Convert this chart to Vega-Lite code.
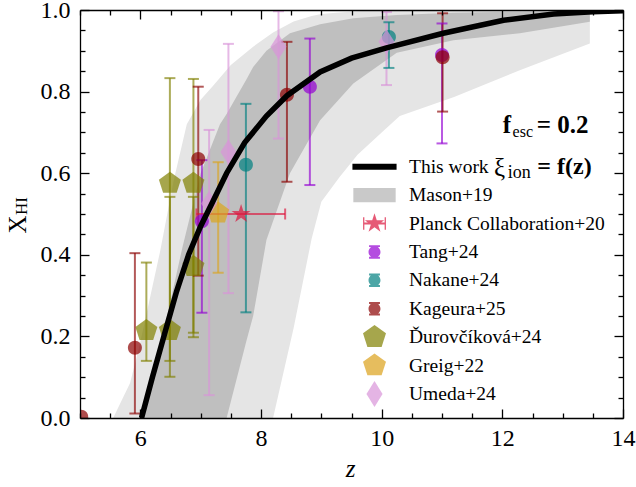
{
  "$schema": "https://vega.github.io/schema/vega-lite/v6.json",
  "width": 543,
  "height": 408,
  "autosize": {"type": "none"},
  "padding": {"left": 80, "top": 10, "right": 13, "bottom": 69},
  "config": {
    "view": {"stroke": null},
    "font": "Liberation Serif"
  },
  "datasets": {
    "curve": [
      {"z": 6.02, "xhi": 0}, {"z": 6.2, "xhi": 0.1}, {"z": 6.4, "xhi": 0.205}, {"z": 6.6, "xhi": 0.31},
      {"z": 6.8, "xhi": 0.4}, {"z": 7.0, "xhi": 0.47}, {"z": 7.2, "xhi": 0.53}, {"z": 7.43, "xhi": 0.6},
      {"z": 7.73, "xhi": 0.675}, {"z": 8.09, "xhi": 0.74}, {"z": 8.43, "xhi": 0.79}, {"z": 8.98, "xhi": 0.848},
      {"z": 9.5, "xhi": 0.882}, {"z": 10.08, "xhi": 0.907}, {"z": 11.02, "xhi": 0.943}, {"z": 12.02, "xhi": 0.975},
      {"z": 12.85, "xhi": 0.99}, {"z": 13.5, "xhi": 0.996}, {"z": 14, "xhi": 0.998}
    ],
    "outer": [
      {"z": 5.55, "lo": 0, "hi": 0}, {"z": 5.83, "lo": 0, "hi": 0.086}, {"z": 5.97, "lo": 0, "hi": 0.167},
      {"z": 6.08, "lo": 0, "hi": 0.24}, {"z": 6.33, "lo": 0, "hi": 0.41}, {"z": 6.55, "lo": 0, "hi": 0.58},
      {"z": 6.77, "lo": 0, "hi": 0.72}, {"z": 7.0, "lo": 0, "hi": 0.78}, {"z": 7.21, "lo": 0, "hi": 0.815},
      {"z": 7.5, "lo": 0, "hi": 0.865}, {"z": 7.87, "lo": 0, "hi": 0.91}, {"z": 8.2, "lo": 0, "hi": 0.945},
      {"z": 8.54, "lo": 0.22, "hi": 0.972}, {"z": 8.84, "lo": 0.44, "hi": 0.985}, {"z": 9.0, "lo": 0.53, "hi": 0.99},
      {"z": 9.3, "lo": 0.59, "hi": 0.994}, {"z": 9.6, "lo": 0.645, "hi": 0.997}, {"z": 10.0, "lo": 0.7, "hi": 1.0},
      {"z": 10.3, "lo": 0.74, "hi": 1.0}, {"z": 11.2, "lo": 0.787, "hi": 1.0}, {"z": 12.3, "lo": 0.853, "hi": 1.0},
      {"z": 13.45, "lo": 0.918, "hi": 1.0}
    ],
    "inner": [
      {"z": 6.0, "lo": 0, "hi": 0}, {"z": 6.4, "lo": 0, "hi": 0.22}, {"z": 6.7, "lo": 0, "hi": 0.42},
      {"z": 7.0, "lo": 0, "hi": 0.6}, {"z": 7.32, "lo": 0, "hi": 0.72}, {"z": 7.43, "lo": 0, "hi": 0.745},
      {"z": 7.76, "lo": 0.19, "hi": 0.83}, {"z": 7.87, "lo": 0.25, "hi": 0.86}, {"z": 8.09, "lo": 0.436, "hi": 0.9},
      {"z": 8.48, "lo": 0.6, "hi": 0.943}, {"z": 8.98, "lo": 0.73, "hi": 0.965}, {"z": 9.53, "lo": 0.82, "hi": 0.98},
      {"z": 10.25, "lo": 0.895, "hi": 0.988}, {"z": 11.19, "lo": 0.926, "hi": 0.993}, {"z": 12.29, "lo": 0.943, "hi": 0.996},
      {"z": 13.45, "lo": 0.971, "hi": 0.997}
    ],
    "obs": [
      {"s": "Planck Collaboration+20", "z": 7.67, "xhi": 0.5, "zlo": 6.93, "zhi": 8.4},
      {"s": "Tang+24", "z": 7.02, "xhi": 0.482, "lo": 0.258, "hi": 0.632},
      {"s": "Tang+24", "z": 8.81, "xhi": 0.812, "lo": 0.571, "hi": 0.93},
      {"s": "Tang+24", "z": 11.0, "xhi": 0.89, "lo": 0.673, "hi": 0.967},
      {"s": "Nakane+24", "z": 7.75, "xhi": 0.621, "lo": 0.259, "hi": 0.77},
      {"s": "Nakane+24", "z": 10.12, "xhi": 0.934, "lo": 0.858, "hi": 0.97},
      {"s": "Kageura+25", "z": 5.02, "xhi": 0.003},
      {"s": "Kageura+25", "z": 5.91, "xhi": 0.172, "lo": 0.011, "hi": 0.404},
      {"s": "Kageura+25", "z": 6.96, "xhi": 0.635, "lo": 0.349, "hi": 0.812},
      {"s": "Kageura+25", "z": 8.43, "xhi": 0.792, "lo": 0.579, "hi": 0.922},
      {"s": "Kageura+25", "z": 11.01, "xhi": 0.884, "lo": 0.751, "hi": 0.992},
      {"s": "Ďurovčíková+24", "z": 6.1, "xhi": 0.214, "lo": 0.14, "hi": 0.381},
      {"s": "Ďurovčíková+24", "z": 6.49, "xhi": 0.214, "lo": 0.14, "hi": 0.542},
      {"s": "Ďurovčíková+24", "z": 6.49, "xhi": 0.575, "lo": 0.101, "hi": 0.833},
      {"s": "Ďurovčíková+24", "z": 6.88, "xhi": 0.371, "lo": 0.209, "hi": 0.542},
      {"s": "Ďurovčíková+24", "z": 6.88, "xhi": 0.575, "lo": 0.198, "hi": 0.831},
      {"s": "Greig+22", "z": 7.29, "xhi": 0.502, "lo": 0.356, "hi": 0.627},
      {"s": "Umeda+24", "z": 7.14, "xhi": 0.526, "lo": 0.056, "hi": 0.706},
      {"s": "Umeda+24", "z": 7.46, "xhi": 0.652, "lo": 0.306, "hi": 0.917},
      {"s": "Umeda+24", "z": 8.29, "xhi": 0.91, "lo": 0.685, "hi": 0.997},
      {"s": "Umeda+24", "z": 10.08, "xhi": 0.922, "lo": 0.816, "hi": 0.995}
    ]
  },
  "resolve": {"axis": {"x": "independent", "y": "independent"}},
  "layer": [
    {
      "data": {"name": "outer"},
      "mark": {"type": "area", "color": "#e5e5e5", "clip": true},
      "encoding": {
        "x": {"field": "z", "type": "quantitative", "scale": {"domain": [5, 14], "nice": false, "zero": false},
          "axis": {"orient": "bottom", "zindex": 2, "grid": false, "domain": true, "domainColor": "black", "domainWidth": 1.3,
            "ticks": true, "tickColor": "black", "tickWidth": 1.3,
            "values": [5,5.5,6,6.5,7,7.5,8,8.5,9,9.5,10,10.5,11,11.5,12,12.5,13,13.5,14],
            "format": ".0f",
            "tickSize": {"condition": {"test": "datum.value % 2 == 0", "value": -9}, "value": -5},
            "labelExpr": "datum.value % 2 == 0 ? datum.label : ''",
            "labelFont": "Liberation Serif", "labelFontSize": 24, "labelColor": "black", "labelFlush": false, "labelOverlap": false,
            "labelPadding": 36, "labelBaseline": "alphabetic",
            "title": "z", "titleFont": "Liberation Serif", "titleColor": "black", "titleFontStyle": "italic", "titleFontSize": 25, "titleFontWeight": "normal",
            "titleX": 270, "titleY": 58, "titleBaseline": "alphabetic", "titleAlign": "center"}},
        "y": {"field": "lo", "type": "quantitative", "scale": {"domain": [0, 1], "nice": false, "zero": false},
          "axis": {"orient": "left", "zindex": 2, "grid": false, "domain": true, "domainColor": "black", "domainWidth": 1.3,
            "ticks": true, "tickColor": "black", "tickWidth": 1.3,
            "values": [0,0.05,0.1,0.15,0.2,0.25,0.3,0.35,0.4,0.45,0.5,0.55,0.6,0.65,0.7,0.75,0.8,0.85,0.9,0.95,1],
            "format": ".1f",
            "tickSize": {"condition": {"test": "abs(datum.value*5 - round(datum.value*5)) < 0.001", "value": -9}, "value": -5},
            "labelExpr": "abs(datum.value*5 - round(datum.value*5)) < 0.001 ? datum.label : ''",
            "labelFont": "Liberation Serif", "labelFontSize": 24, "labelColor": "black", "labelFlush": false, "labelOverlap": false,
            "labelPadding": 19,
            "title": "X", "titleFont": "Liberation Serif", "titleColor": "black", "titleFontSize": 25, "titleFontWeight": "normal", "titleAngle": 270,
            "titleX": -55, "titleY": 214, "titleAlign": "center", "titleBaseline": "alphabetic"}},
        "y2": {"field": "hi"}
      }
    },
    {
      "data": {"name": "inner"},
      "mark": {"type": "area", "color": "#bfbfbf", "clip": true},
      "encoding": {
        "x": {"field": "z", "type": "quantitative", "scale": {"domain": [5, 14], "nice": false, "zero": false},
          "axis": {"orient": "top", "zindex": 2, "grid": false, "domain": true, "domainColor": "black", "domainWidth": 1.3,
            "ticks": true, "tickColor": "black", "tickWidth": 1.3,
            "values": [5,5.5,6,6.5,7,7.5,8,8.5,9,9.5,10,10.5,11,11.5,12,12.5,13,13.5,14],
            "tickSize": {"condition": {"test": "datum.value % 2 == 0", "value": -9}, "value": -5},
            "labels": false, "title": null}},
        "y": {"field": "lo", "type": "quantitative", "scale": {"domain": [0, 1], "nice": false, "zero": false},
          "axis": {"orient": "right", "zindex": 2, "grid": false, "domain": true, "domainColor": "black", "domainWidth": 1.3,
            "ticks": true, "tickColor": "black", "tickWidth": 1.3,
            "values": [0,0.05,0.1,0.15,0.2,0.25,0.3,0.35,0.4,0.45,0.5,0.55,0.6,0.65,0.7,0.75,0.8,0.85,0.9,0.95,1],
            "tickSize": {"condition": {"test": "abs(datum.value*5 - round(datum.value*5)) < 0.001", "value": -9}, "value": -5},
            "labels": false,
            "title": "HI", "titleFont": "Liberation Serif", "titleColor": "black", "titleFontSize": 17, "titleFontWeight": "normal", "titleAngle": 270,
            "titleX": -597, "titleY": 195.5, "titleAlign": "center", "titleBaseline": "alphabetic"}},
        "y2": {"field": "hi"}
      }
    },
    {
      "data": {"name": "obs"},
      "transform": [{"filter": "isValid(datum.lo)"}],
      "mark": {"type": "rule", "strokeWidth": 2, "opacity": 0.65, "clip": true},
      "encoding": {
        "x": {"field": "z", "type": "quantitative", "axis": null},
        "y": {"field": "lo", "type": "quantitative", "axis": null},
        "y2": {"field": "hi"},
        "color": {"field": "s", "type": "nominal", "legend": null,
          "scale": {"domain": ["Planck Collaboration+20","Tang+24","Nakane+24","Kageura+25","Ďurovčíková+24","Greig+22","Umeda+24"],
            "range": ["#dc143c","#9400d3","#008080","#8b0000","#808000","#daa520","#d894d8"]}}
      }
    },
    {
      "data": {"name": "obs"},
      "transform": [{"filter": "isValid(datum.lo)"}, {"fold": ["lo", "hi"], "as": ["cap", "capv"]}],
      "mark": {"type": "tick", "orient": "horizontal", "size": 11, "thickness": 2, "opacity": 0.65, "clip": true},
      "encoding": {
        "x": {"field": "z", "type": "quantitative", "axis": null},
        "y": {"field": "capv", "type": "quantitative", "axis": null},
        "color": {"field": "s", "type": "nominal", "legend": null}
      }
    },
    {
      "data": {"name": "obs"},
      "transform": [{"filter": "isValid(datum.zlo)"}],
      "mark": {"type": "rule", "strokeWidth": 2, "opacity": 0.65, "clip": true},
      "encoding": {
        "x": {"field": "zlo", "type": "quantitative", "axis": null},
        "x2": {"field": "zhi"},
        "y": {"field": "xhi", "type": "quantitative", "axis": null},
        "color": {"field": "s", "type": "nominal", "legend": null}
      }
    },
    {
      "data": {"name": "obs"},
      "transform": [{"filter": "isValid(datum.zlo)"}, {"fold": ["zlo", "zhi"], "as": ["cap", "capz"]}],
      "mark": {"type": "tick", "orient": "vertical", "size": 11, "thickness": 2, "opacity": 0.65, "clip": true},
      "encoding": {
        "x": {"field": "capz", "type": "quantitative", "axis": null},
        "y": {"field": "xhi", "type": "quantitative", "axis": null},
        "color": {"field": "s", "type": "nominal", "legend": null}
      }
    },
    {
      "data": {"name": "obs"},
      "transform": [{"filter": "datum.s == 'Planck Collaboration+20'"}],
      "mark": {"type": "point", "filled": true, "opacity": 0.7, "size": 400, "strokeWidth": 0, "clip": true,
        "shape": "M0,-1L0.2245,-0.309L0.951,-0.309L0.3633,0.118L0.588,0.809L0,0.382L-0.588,0.809L-0.3633,0.118L-0.951,-0.309L-0.2245,-0.309Z"},
      "encoding": {
        "x": {"field": "z", "type": "quantitative", "axis": null},
        "y": {"field": "xhi", "type": "quantitative", "axis": null},
        "color": {"field": "s", "type": "nominal", "legend": null}
      }
    },
    {
      "data": {"name": "obs"},
      "transform": [{"filter": "indexof(['Tang+24','Nakane+24','Kageura+25'], datum.s) >= 0"}],
      "mark": {"type": "point", "filled": true, "opacity": 0.7, "size": 400, "strokeWidth": 0, "clip": true,
        "shape": "M-0.7,0A0.7,0.7 0 1,1 0.7,0A0.7,0.7 0 1,1 -0.7,0Z"},
      "encoding": {
        "x": {"field": "z", "type": "quantitative", "axis": null},
        "y": {"field": "xhi", "type": "quantitative", "axis": null},
        "color": {"field": "s", "type": "nominal", "legend": null}
      }
    },
    {
      "data": {"name": "obs"},
      "transform": [{"filter": "indexof(['Ďurovčíková+24','Greig+22'], datum.s) >= 0"}],
      "mark": {"type": "point", "filled": true, "opacity": 0.7, "size": 400, "strokeWidth": 0, "clip": true,
        "shape": "M0,-1.157L1.1004,-0.3575L0.6801,0.936L-0.6801,0.936L-1.1004,-0.3575Z"},
      "encoding": {
        "x": {"field": "z", "type": "quantitative", "axis": null},
        "y": {"field": "xhi", "type": "quantitative", "axis": null},
        "color": {"field": "s", "type": "nominal", "legend": null}
      }
    },
    {
      "data": {"name": "obs"},
      "transform": [{"filter": "datum.s == 'Umeda+24'"}],
      "mark": {"type": "point", "filled": true, "opacity": 0.7, "size": 400, "strokeWidth": 0, "clip": true,
        "shape": "M0,-1.25L0.8,0L0,1.25L-0.8,0Z"},
      "encoding": {
        "x": {"field": "z", "type": "quantitative", "axis": null},
        "y": {"field": "xhi", "type": "quantitative", "axis": null},
        "color": {"field": "s", "type": "nominal", "legend": null}
      }
    },
    {
      "data": {"name": "curve"},
      "mark": {"type": "line", "color": "black", "strokeWidth": 5.5, "clip": true},
      "encoding": {
        "x": {"field": "z", "type": "quantitative", "axis": null},
        "y": {"field": "xhi", "type": "quantitative", "axis": null}
      }
    },
    {
      "data": {"values": [{}]},
      "mark": {"type": "text", "text": "f", "font": "Liberation Serif", "fontSize": 25, "fontWeight": "bold", "align": "left", "baseline": "alphabetic", "color": "black"},
      "encoding": {"x": {"datum": 12.005, "type": "quantitative", "axis": null}, "y": {"datum": 0.6985, "type": "quantitative", "axis": null}}
    },
    {
      "data": {"values": [{}]},
      "mark": {"type": "text", "text": "esc", "font": "Liberation Serif", "fontSize": 16, "align": "left", "baseline": "alphabetic", "color": "black"},
      "encoding": {"x": {"datum": 12.17, "type": "quantitative", "axis": null}, "y": {"datum": 0.689, "type": "quantitative", "axis": null}}
    },
    {
      "data": {"values": [{}]},
      "mark": {"type": "text", "text": "= 0.2", "font": "Liberation Serif", "fontSize": 25, "fontWeight": "bold", "align": "left", "baseline": "alphabetic", "color": "black"},
      "encoding": {"x": {"datum": 12.57, "type": "quantitative", "axis": null}, "y": {"datum": 0.6985, "type": "quantitative", "axis": null}}
    },
    {
      "data": {"values": [{}]},
      "mark": {"type": "text", "text": "ξ", "font": "Liberation Serif", "fontSize": 25, "align": "left", "baseline": "alphabetic", "color": "black"},
      "encoding": {"x": {"datum": 11.862, "type": "quantitative", "axis": null}, "y": {"datum": 0.594, "type": "quantitative", "axis": null}}
    },
    {
      "data": {"values": [{}]},
      "mark": {"type": "text", "text": "ion", "font": "Liberation Serif", "fontSize": 18, "align": "left", "baseline": "alphabetic", "color": "black"},
      "encoding": {"x": {"datum": 12.09, "type": "quantitative", "axis": null}, "y": {"datum": 0.588, "type": "quantitative", "axis": null}}
    },
    {
      "data": {"values": [{}]},
      "mark": {"type": "text", "text": "= f(z)", "font": "Liberation Serif", "fontSize": 24, "fontWeight": "bold", "align": "left", "baseline": "alphabetic", "color": "black"},
      "encoding": {"x": {"datum": 12.58, "type": "quantitative", "axis": null}, "y": {"datum": 0.598, "type": "quantitative", "axis": null}}
    },
    {
      "data": {"name": "obs"},
      "transform": [{"filter": "false"}],
      "mark": {"type": "point", "filled": true, "opacity": 1},
      "encoding": {
        "x": {"field": "z", "type": "quantitative", "axis": null},
        "y": {"field": "xhi", "type": "quantitative", "axis": null},
        "fill": {"field": "s", "type": "nominal",
          "scale": {"domain": ["This work","Mason+19","Planck Collaboration+20","Tang+24","Nakane+24","Kageura+25","Ďurovčíková+24","Greig+22","Umeda+24"],
            "range": ["#000000","#c9c9c9","#e65a76","#b44ce0","#4ca6a6","#ae4c4c","#a6a64c","#e6bd5e","#e4b4e4"]},
          "legend": {"title": null, "orient": "none", "legendX": 281.5, "legendY": 143.7, "symbolSize": 676,
            "symbolStrokeWidth": 0, "symbolStrokeColor": "transparent", "symbolOpacity": 1, "symbolOffset": 0,
            "labelFont": "Liberation Serif", "labelFontSize": 19.5, "labelColor": "black", "labelOffset": 21.5,
            "rowPadding": 5.4, "padding": 0, "labelLimit": 400}},
        "shape": {"field": "s", "type": "nominal",
          "scale": {"domain": ["This work","Mason+19","Planck Collaboration+20","Tang+24","Nakane+24","Kageura+25","Ďurovčíková+24","Greig+22","Umeda+24"],
            "range": [
              "M-1.698,-0.23H1.698V0.23H-1.698Z",
              "M-1.628,-0.548H1.628V0.548H-1.628Z",
              "M0,-0.78L0.1751,-0.241L0.7418,-0.241L0.2834,0.092L0.4586,0.631L0,0.298L-0.4586,0.631L-0.2834,0.092L-0.7418,-0.241L-0.1751,-0.241ZM-0.82,-0.08H0.82V0.08H-0.82ZM-0.88,-0.48H-0.78V0.48H-0.88ZM0.78,-0.48H0.88V0.48H0.78Z",
              "M-0.46,0A0.46,0.46 0 1,1 0.46,0A0.46,0.46 0 1,1 -0.46,0ZM-0.075,-0.5H0.075V0.5H-0.075ZM-0.42,-0.52H0.42V-0.37H-0.42ZM-0.42,0.37H0.42V0.52H-0.42Z",
              "M-0.46,0A0.46,0.46 0 1,1 0.46,0A0.46,0.46 0 1,1 -0.46,0ZM-0.075,-0.5H0.075V0.5H-0.075ZM-0.42,-0.52H0.42V-0.37H-0.42ZM-0.42,0.37H0.42V0.52H-0.42Z",
              "M-0.46,0A0.46,0.46 0 1,1 0.46,0A0.46,0.46 0 1,1 -0.46,0ZM-0.075,-0.5H0.075V0.5H-0.075ZM-0.42,-0.52H0.42V-0.37H-0.42ZM-0.42,0.37H0.42V0.52H-0.42Z",
              "M0,-0.93L0.8845,-0.2874L0.5466,0.7524L-0.5466,0.7524L-0.8845,-0.2874Z",
              "M0,-0.93L0.8845,-0.2874L0.5466,0.7524L-0.5466,0.7524L-0.8845,-0.2874Z",
              "M0,-1L0.62,0L0,1L-0.62,0Z"
            ]}}
      }
    }
  ]
}
